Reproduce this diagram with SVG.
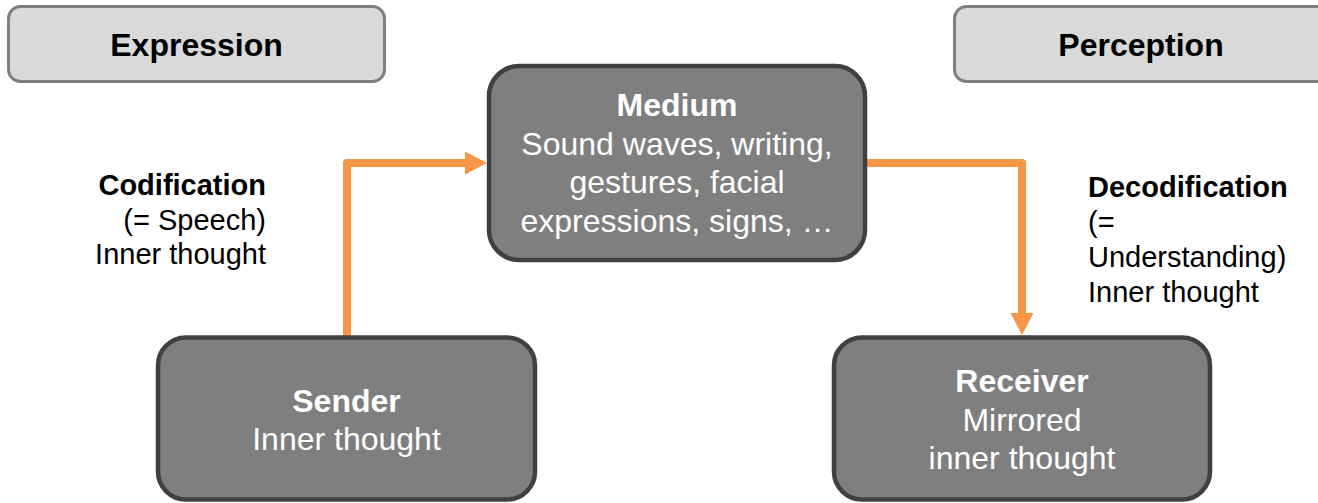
<svg xmlns="http://www.w3.org/2000/svg" width="1318" height="503" viewBox="0 0 1318 503">
  <style>
    .title rect { fill: #d9d9d9; stroke: #7f7f7f; stroke-width: 3; }
    .title text { font-family: "Liberation Sans", Arial, sans-serif; font-size: 32px; font-weight: bold; fill: #000; text-anchor: middle; }
    .node rect { fill: #7f7f7f; stroke: #404040; stroke-width: 4.5; }
    .node text { font-family: "Liberation Sans", Arial, sans-serif; font-size: 32px; fill: #fff; text-anchor: middle; }
    .b { font-weight: bold; }
    .label { font-family: "Liberation Sans", Arial, sans-serif; font-size: 29px; fill: #000; }
    .conn { fill: none; stroke: #f79646; stroke-width: 8; stroke-linejoin: round; }
  </style>
  <defs>
    <marker id="arrow" markerUnits="userSpaceOnUse" markerWidth="24" markerHeight="24" refX="0" refY="11.5" orient="auto">
      <path d="M0,0 L22,11.5 L0,23 z" fill="#f79646"/>
    </marker>
  </defs>

  <rect width="1318" height="503" fill="#ffffff"/>

  <!-- connectors -->
  <g id="connectors">
    <path class="conn" d="M347,339 V163 H465" marker-end="url(#arrow)"/>
    <path class="conn" d="M867,163 H1022 V313" marker-end="url(#arrow)"/>
  </g>

  <!-- phase headers -->
  <g id="expression" class="title">
    <rect x="8.5" y="6.5" width="376" height="75" rx="12"/>
    <text x="196.5" y="56">Expression</text>
  </g>
  <g id="perception" class="title">
    <rect x="954.5" y="6.5" width="376" height="75" rx="12"/>
    <text x="1141" y="56">Perception</text>
  </g>

  <!-- main nodes -->
  <g id="medium" class="node">
    <rect x="489" y="66" width="376" height="194" rx="30"/>
    <text x="677" y="116" class="b">Medium</text>
    <text x="677" y="155">Sound waves, writing,</text>
    <text x="677" y="193">gestures, facial</text>
    <text x="677" y="232">expressions, signs, …</text>
  </g>
  <g id="sender" class="node">
    <rect x="158" y="337.5" width="377" height="162" rx="28"/>
    <text x="346.5" y="412" class="b">Sender</text>
    <text x="346.5" y="450">Inner thought</text>
  </g>
  <g id="receiver" class="node">
    <rect x="834" y="337.5" width="376" height="162" rx="28"/>
    <text x="1022" y="392" class="b">Receiver</text>
    <text x="1022" y="431">Mirrored</text>
    <text x="1022" y="469">inner thought</text>
  </g>

  <!-- process labels -->
  <g id="codification" class="label" text-anchor="end">
    <text x="266" y="195" class="b">Codification</text>
    <text x="266" y="230">(= Speech)</text>
    <text x="266" y="264">Inner thought</text>
  </g>
  <g id="decodification" class="label" text-anchor="start">
    <text x="1088" y="197" class="b">Decodification</text>
    <text x="1088" y="232">(=</text>
    <text x="1088" y="267">Understanding)</text>
    <text x="1088" y="302">Inner thought</text>
  </g>
</svg>
